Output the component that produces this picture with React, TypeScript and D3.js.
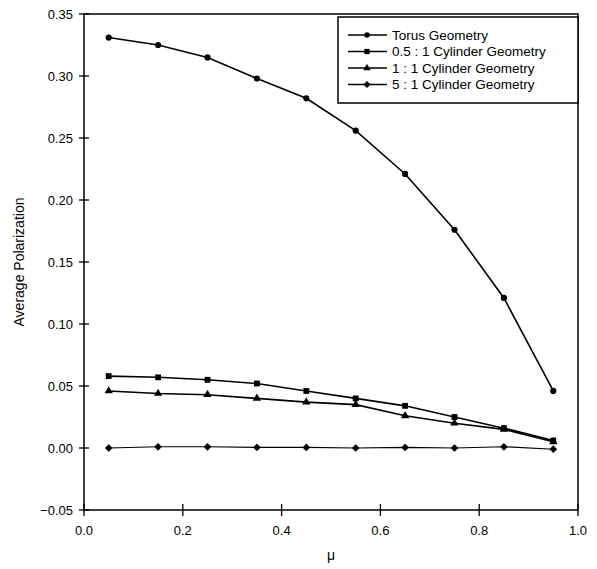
import React from 'react';
import * as d3 from 'd3';

const mu = [0.05, 0.15, 0.25, 0.35, 0.45, 0.55, 0.65, 0.75, 0.85, 0.95];
const torus = [0.331, 0.325, 0.315, 0.298, 0.282, 0.256, 0.221, 0.176, 0.121, 0.046];
const cyl05 = [0.058, 0.057, 0.055, 0.052, 0.046, 0.040, 0.034, 0.025, 0.016, 0.006];
const cyl1 = [0.046, 0.044, 0.043, 0.040, 0.037, 0.035, 0.026, 0.020, 0.015, 0.005];
const cyl5 = [0.0, 0.001, 0.001, 0.0005, 0.0005, 0.0, 0.0005, 0.0, 0.001, -0.001];
const seriesNames = ['Torus Geometry', '0.5 : 1 Cylinder Geometry', '1 : 1 Cylinder Geometry', '5 : 1 Cylinder Geometry'];
const xTicks = [0, 0.2, 0.4, 0.6, 0.8, 1.0];
const yTicks = [-0.05, 0, 0.05, 0.1, 0.15, 0.2, 0.25, 0.3, 0.35];

const W = 597, H = 569;
const left = 84, right = 578, top = 14, bottom = 510;
const font = '"Liberation Sans", Arial, sans-serif';

const x = d3.scaleLinear().domain([0, 1]).range([left, right]);
const y = d3.scaleLinear().domain([-0.05, 0.35]).range([bottom, top]);

// diamond = square turned 45 degrees
const symbols = [d3.symbolCircle, d3.symbolSquare, d3.symbolTriangle, d3.symbolSquare];
const rotations = [0, 0, 0, 45];
const sizes = [30, 34, 30, 30];
const allSeries = [torus, cyl05, cyl1, cyl5];

const line = d3.line<number>().x((_, i) => x(mu[i])).y(d => y(d));

export default function App() {
  return (
    <svg width={W} height={H} style={{ position: 'absolute', left: 0, top: 0, background: '#fff' }} fontFamily={font}>
      {/* frame */}
      <rect x={left} y={top} width={right - left} height={bottom - top} fill="none" stroke="#000" strokeWidth={1.5} />
      {yTicks.map(t => (
        <g key={'y' + t}>
          <line x1={left - 5} x2={left + 5} y1={y(t)} y2={y(t)} stroke="#000" strokeWidth={1.3} />
          <text x={left - 11} y={y(t)} dy="0.35em" textAnchor="end" fontSize={13}>{d3.format('.2f')(t)}</text>
        </g>
      ))}
      {xTicks.map(t => (
        <g key={'x' + t}>
          <line x1={x(t)} x2={x(t)} y1={bottom - 6} y2={bottom + 6} stroke="#000" strokeWidth={1.3} />
          <text x={x(t)} y={535} textAnchor="middle" fontSize={13}>{d3.format('.1f')(t)}</text>
        </g>
      ))}
      <text transform={`translate(24,${(top + bottom) / 2}) rotate(-90)`} textAnchor="middle" fontSize={14}>Average Polarization</text>
      <text x={x(0.5)} y={560} textAnchor="middle" fontSize={14}>μ</text>
      {allSeries.map((s, k) => (
        <g key={'s' + k}>
          <path d={line(s) || ''} fill="none" stroke="#000" strokeWidth={k === 3 ? 1.2 : 1.6} />
          {s.map((v, i) => (
            <path key={i} d={d3.symbol(symbols[k], sizes[k])() || ''} transform={`translate(${x(mu[i])},${y(v)}) rotate(${rotations[k]})`} fill="#000" />
          ))}
        </g>
      ))}
      {/* legend */}
      <rect x={338} y={17} width={240} height={86} fill="#fff" stroke="#000" strokeWidth={1.5} />
      {seriesNames.map((n, k) => {
        const ly = 35 + k * 16.5;
        return (
          <g key={'l' + k}>
            <line x1={348} x2={387} y1={ly} y2={ly} stroke="#000" strokeWidth={1.4} />
            <path d={d3.symbol(symbols[k], sizes[k] * 0.8)() || ''} transform={`translate(367,${ly}) rotate(${rotations[k]})`} fill="#000" />
            <text x={392} y={ly} dy="0.35em" fontSize={13.5}>{n}</text>
          </g>
        );
      })}
    </svg>
  );
}
